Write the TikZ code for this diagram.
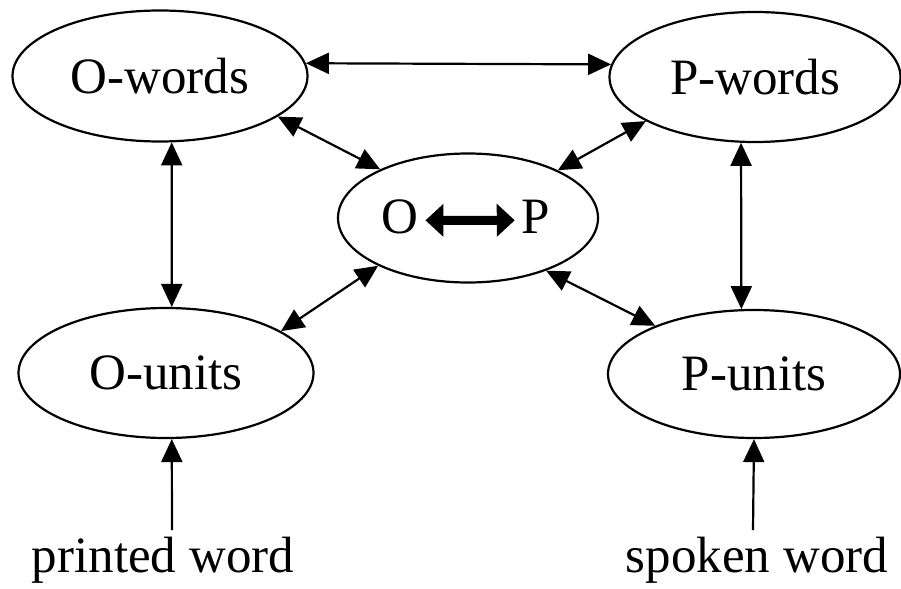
\documentclass[tikz,border=0pt]{standalone}
\usepackage{fontspec}
\setmainfont{Liberation Serif}
\usetikzlibrary{arrows.meta,shapes.geometric}

\begin{document}
\begin{tikzpicture}[x=0.5pt,y=-0.5pt,
    every node/.style={font=\fontsize{25.5}{30}\selectfont},
    blob/.style={draw,ellipse,line width=1.1pt,inner sep=0pt},
    word/.style={anchor=base,inner sep=3pt},
    link/.style={line width=1.1pt,{Triangle[length=11.5pt,width=10.5pt]}-{Triangle[length=11.5pt,width=10.5pt]}},
    feed/.style={line width=1.1pt,-{Triangle[length=11.5pt,width=10.5pt]}},
    swap/.style={line width=4.5pt,{Triangle[length=9pt,width=16pt]}-{Triangle[length=9pt,width=16pt]}}]
  \useasboundingbox (0,0) rectangle (901,589);
  \node[blob,minimum width=147.5pt,minimum height=65.5pt] (ow) at (160,76) {O-words};
  \node[blob,minimum width=145.5pt,minimum height=65pt] (pw) at (755,77) {P-words};
  \node[blob,minimum width=130pt,minimum height=64.5pt] (op) at (468,218) {};
  \node[anchor=base] (o) at (400,233) {O};
  \node[anchor=base] (p) at (536,233) {P};
  \node[blob,minimum width=147.5pt,minimum height=65pt] (ou) at (166,373) {O-units};
  \node[blob,minimum width=146pt,minimum height=64pt] (pu) at (754,374) {P-units};
  \node[word] (printed) at (163,572) {printed word};
  \node[word] (spoken) at (757,572) {spoken word};
  \draw[swap] ([yshift=-2pt]o.east) -- ([yshift=-2pt]p.west);
  \draw[link] (ow.5) -- (pw.175);
  \draw[link] (ow.-80) -- (ou.85);
  \draw[link] (pw.-102) -- (pu.101);
  \draw[link] (ow.-19) -- (op.151);
  \draw[link] (op.28) -- (pw.-158);
  \draw[link] (op.208) -- (ou.20);
  \draw[link] (op.-34) -- (pu.154);
  \draw[feed] ([xshift=4.5pt]printed.north) -- (ou.-85);
  \draw[feed] ([xshift=-2pt]spoken.north) -- (pu.south);
\end{tikzpicture}
\end{document}
